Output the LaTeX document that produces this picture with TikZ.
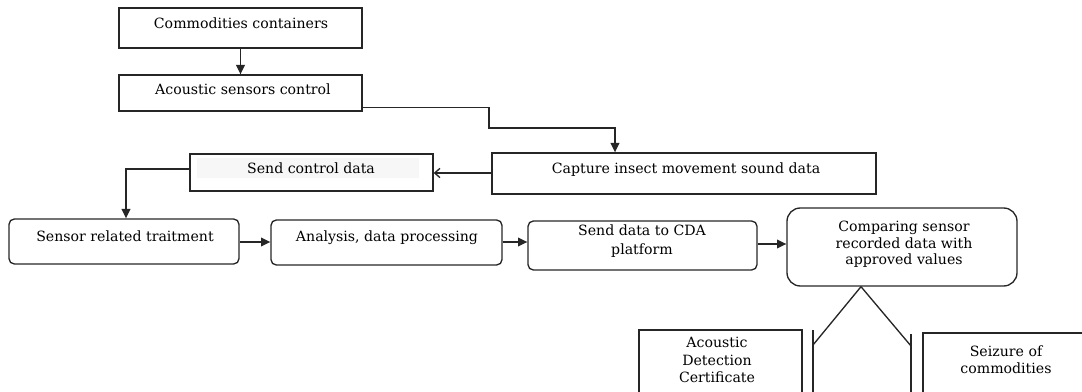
\documentclass[tikz,border=0pt]{standalone}
\usepackage{fontspec}
\setmainfont{DejaVu Serif}
\usetikzlibrary{arrows.meta,fit}
\begin{document}
\begin{tikzpicture}[x=0.75pt,y=-0.75pt,
  sbox/.style={draw=black!85, line width=1pt, inner sep=0pt},
  rbox/.style={sbox, rounded corners=4pt},
  cbox/.style={sbox, rounded corners=10pt},
  lbl/.style={anchor=base, inner sep=0pt, font=\fontsize{10.6}{12.5}\selectfont},
  conn/.style={draw=black!85, line width=1pt},
  arr/.style={conn, -{Triangle[length=7pt,width=6.5pt]}},
  openarr/.style={conn, -{Straight Barb[length=4pt,width=7pt]}}]
\useasboundingbox (0,0) rectangle (1082,392);
\clip (0,0) rectangle (1082,392);
% boxes
\node[sbox, fit={(119,8)(362,48)}] (comm) {};
\node[sbox, fit={(119,75)(362,111)}] (asc) {};
\node[sbox, fit={(492,153)(876,194)}] (cap) {};
\node[fill=black!3, inner sep=0pt, fit={(197,158)(419,178)}] (scdbg) {};
\node[sbox, fit={(190,154)(433,191)}] (scd) {};
\node[rbox, fit={(9,219)(239,264)}] (sen) {};
\node[rbox, fit={(271,220)(502,265)}] (ana) {};
\node[rbox, fit={(528,221)(757,270)}] (cda) {};
\node[cbox, fit={(787,208)(1017,286)}] (cmp) {};
\node[sbox, fit={(639,330)(802,410)}] (adc) {};
\node[sbox, fit={(923,333)(1110,410)}] (sei) {};
% texts
\node[lbl] (commT) at (241,29) {Commodities containers};
\node[lbl] (ascT) at (243,95) {Acoustic sensors control};
\node[lbl] (capT) at (686,174) {Capture insect movement sound data};
\node[lbl] (scdT) at (311,174) {Send control data};
\node[lbl] (senT) at (125,242) {Sensor related traitment};
\node[lbl] (anaT) at (387,242) {Analysis, data processing};
\node[lbl] (cdaT1) at (642,235) {Send data to CDA};
\node[lbl] (cdaT2) at (642,254) {platform};
\node[lbl] (cmpT1) at (904,232) {Comparing sensor};
\node[lbl] (cmpT2) at (904,248) {recorded data with};
\node[lbl] (cmpT3) at (904,264) {approved values};
\node[lbl] (adcT1) at (717,347) {Acoustic};
\node[lbl] (adcT2) at (717,365) {Detection};
\node[lbl] (adcT3) at (717,382) {Certificate};
\node[lbl] (seiT1) at (1006,356) {Seizure of};
\node[lbl] (seiT2) at (1006,373) {commodities};
% connectors
\draw[arr] (comm.south) -- (asc.north);
\draw[arr] ([yshift=3pt]asc.south east) -| (489,128) -| (615,0 |- cap.north);
\draw[openarr] (cap.west |- 0,173) -- (scd.east |- 0,173);
\draw[arr] (scd.west |- 0,169) -| (126,0 |- sen.north);
\draw[arr] (sen.east |- 0,242) -- (ana.west |- 0,242);
\draw[arr] (ana.east |- 0,242) -- (cda.west |- 0,242);
\draw[arr] (cda.east |- 0,244) -- (cmp.west |- 0,244);
\coordinate (apex) at (861,0 |- cmp.south);
\coordinate (lt) at (813,330);
\coordinate (lb) at (813,410);
\coordinate (rt) at (911,334);
\coordinate (rb) at (911,410);
\draw[conn] (apex) -- (813,345);
\draw[conn] (lt) -- (lb);
\draw[conn] (apex) -- (911,346);
\draw[conn] (rt) -- (rb);
\end{tikzpicture}
\end{document}
